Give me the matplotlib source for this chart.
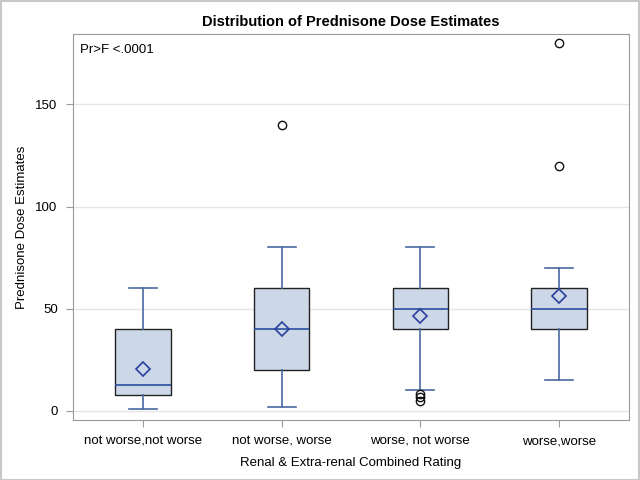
import matplotlib
matplotlib.use("Agg")
import matplotlib.pyplot as plt

plt.rcParams['font.family'] = ['Liberation Sans', 'DejaVu Sans']

# box statistics
groups = ["not worse,not worse", "not worse, worse", "worse, not worse", "worse,worse"]
q1 = [7.5, 20, 40, 40]
med = [12.5, 40, 50, 50]
q3 = [40, 60, 60, 60]
mean = [20.6, 40, 46.5, 56.3]
whislo = [1, 2, 10, 15]
whishi = [60, 80, 80, 70]
outliers = [[], [140], [8, 7, 5], [120, 180]]

stats = []
for i in range(len(groups)):
    stats.append(dict(label=groups[i], q1=q1[i], med=med[i], q3=q3[i], mean=mean[i],
                      whislo=whislo[i], whishi=whishi[i], fliers=outliers[i]))

fig = plt.figure(figsize=(6.4, 4.8), dpi=100)
ax = fig.add_axes([0.114, 0.125, 0.869, 0.804])

line_col = "#4a6aa0"
ax.bxp(stats, positions=range(1, 5), widths=0.4, showmeans=True, patch_artist=True,
       boxprops=dict(facecolor="#ccd7e7", edgecolor="#222222", linewidth=1),
       medianprops=dict(color="#2a4f9e", linewidth=1.2),
       whiskerprops=dict(color=line_col, linewidth=1.2),
       capprops=dict(color=line_col, linewidth=1.2),
       capwidths=0.2,
       meanprops=dict(marker="D", markerfacecolor="none", markeredgecolor="#2b3f9e",
                      markersize=7, markeredgewidth=1.2),
       flierprops=dict(marker="o", markerfacecolor="none", markeredgecolor="#111111",
                       markersize=6, markeredgewidth=1))

ax.set_xlim(0.493, 4.507)
ax.set_ylim(-4.5, 184.4)
ax.set_yticks([0, 50, 100, 150])
ax.yaxis.grid(True, color="#e6e6e6", linewidth=1)
ax.set_axisbelow(True)
for s in ax.spines.values():
    s.set_color("#9a9a9a")
ax.tick_params(colors="#9a9a9a", labelcolor="black", labelsize=9.5, length=5, pad=6)

ax.set_xlabel("Renal & Extra-renal Combined Rating", fontsize=9.5, labelpad=7)
ax.set_ylabel("Prednisone Dose Estimates", fontsize=9.5, labelpad=5)
ax.set_title("Distribution of Prednisone Dose Estimates", fontsize=10.5, fontweight="bold", pad=6)
ax.text(0.012, 0.975, "Pr>F <.0001", transform=ax.transAxes, fontsize=9.5, va="top", ha="left")

fig.patches.append(plt.Rectangle((0.001, 0.001), 0.997, 0.996, transform=fig.transFigure,
                                 fill=False, edgecolor="#c8c8c8", linewidth=1.5))

fig.savefig("out.png", dpi=100)
